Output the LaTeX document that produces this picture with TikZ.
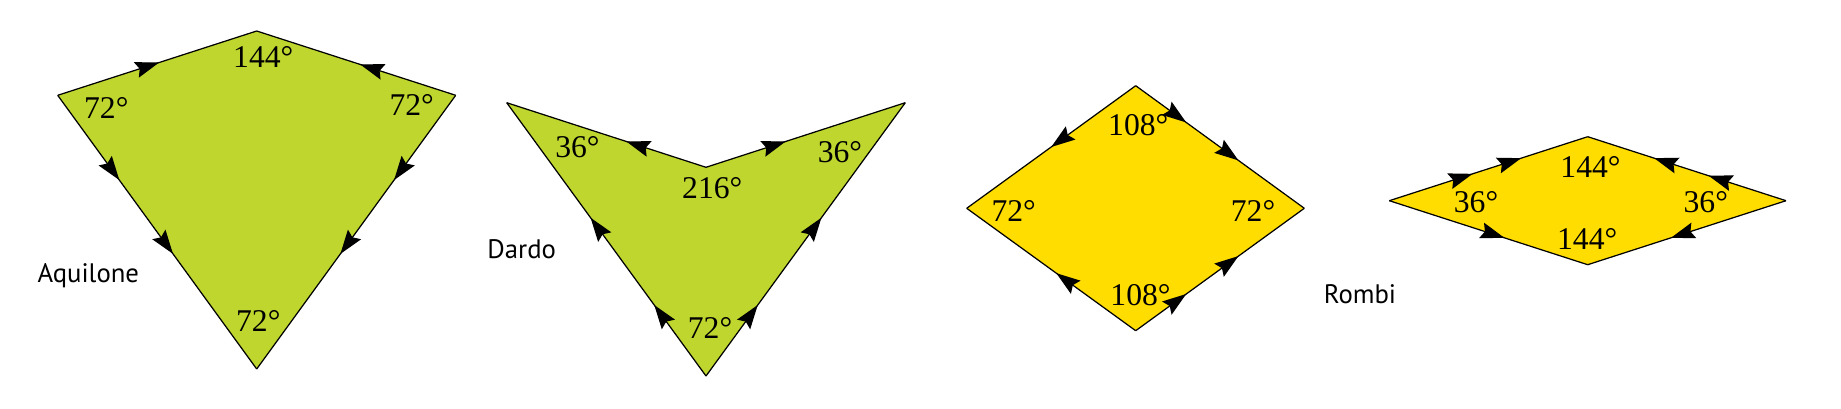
\documentclass[tikz,border=0pt]{standalone}
\usepackage{fontspec}
\setmainfont{Liberation Serif}
\newfontfamily\namefont{PT Sans}
\usetikzlibrary{positioning,arrows.meta,decorations.markings}

\definecolor{kitegreen}{RGB}{191,214,46}
\definecolor{rhombyellow}{RGB}{255,221,0}

\tikzset{
  edge/.style={draw=black, line width=0.35pt},
  arrowat/.style={postaction={decorate, decoration={markings,
      mark=at position #1 with {\arrow{Stealth[length=6.8pt,width=4.6pt,inset=1pt]}}}}},
  ang/.style={inner sep=0pt, font=\fontsize{9}{10}\selectfont},
  tilename/.style={inner sep=0pt, font=\namefont\fontsize{7.6}{9}\selectfont}
}

\begin{document}
\begin{tikzpicture}[x=0.01cm, y=-0.01cm]
  \useasboundingbox (0,0) rectangle (1841,409);

  % Aquilone (kite)
  \coordinate (kT) at (256.7,31);
  \coordinate (kL) at (57.7,95.3);
  \coordinate (kR) at (455.7,95.3);
  \coordinate (kB) at (256.7,369);
  \fill[kitegreen] (kT) -- (kR) -- (kB) -- (kL) -- cycle;
  \draw[edge, arrowat=0.51] (kL) -- (kT);
  \draw[edge, arrowat=0.48] (kR) -- (kT);
  \draw[edge, arrowat=0.31, arrowat=0.58] (kL) -- (kB);
  \draw[edge, arrowat=0.31, arrowat=0.58] (kR) -- (kB);
  \node[ang] (k144) at (263.3,56.7) {144°};
  \node[ang] (k72l) at (106.3,107.5) {72°};
  \node[ang] (k72r) at (411.7,105) {72°};
  \node[ang] (k72b) at (258.3,320.8) {72°};
  \node[tilename] (aquilone) at (88.3,276) {Aquilone};

  % Dardo (dart)
  \coordinate (dL) at (506.7,102.7);
  \coordinate (dR) at (905.3,102.7);
  \coordinate (dI) at (706,167.3);
  \coordinate (dB) at (706,376);
  \fill[kitegreen] (dL) -- (dI) -- (dR) -- (dB) -- cycle;
  \draw[edge, arrowat=0.40] (dI) -- (dL);
  \draw[edge, arrowat=0.40] (dI) -- (dR);
  \draw[edge, arrowat=0.26, arrowat=0.58] (dB) -- (dL);
  \draw[edge, arrowat=0.26, arrowat=0.58] (dB) -- (dR);
  \node[ang] (d36l) at (577.5,147.5) {36°};
  \node[ang] (d36r) at (840,152) {36°};
  \node[ang] (d216) at (712.3,188) {216°};
  \node[ang] (d72) at (710,328) {72°};
  \node[tilename] (dardo) at (521.7,249) {Dardo};

  % Rombo grasso
  \coordinate (fT) at (1135.7,85.7);
  \coordinate (fL) at (966.7,208.3);
  \coordinate (fR) at (1304.3,208.3);
  \coordinate (fB) at (1135.7,330.7);
  \fill[rhombyellow] (fT) -- (fR) -- (fB) -- (fL) -- cycle;
  \draw[edge, arrowat=0.50] (fT) -- (fL);
  \draw[edge, arrowat=0.30, arrowat=0.61] (fT) -- (fR);
  \draw[edge, arrowat=0.47] (fB) -- (fL);
  \draw[edge, arrowat=0.30, arrowat=0.61] (fB) -- (fR);
  \node[ang] (f108t) at (1138.3,125) {108°};
  \node[ang] (f72l) at (1013.7,210.5) {72°};
  \node[ang] (f72r) at (1253,210.5) {72°};
  \node[ang] (f108b) at (1140.5,295.3) {108°};

  % Rombo sottile
  \coordinate (tL) at (1389.3,200.7);
  \coordinate (tT) at (1587.7,136.7);
  \coordinate (tR) at (1786,200.7);
  \coordinate (tB) at (1587.7,264.7);
  \fill[rhombyellow] (tL) -- (tT) -- (tR) -- (tB) -- cycle;
  \draw[edge, arrowat=0.42, arrowat=0.665] (tL) -- (tT);
  \draw[edge, arrowat=0.39, arrowat=0.665] (tR) -- (tT);
  \draw[edge, arrowat=0.58] (tL) -- (tB);
  \draw[edge, arrowat=0.58] (tR) -- (tB);
  \node[ang] (t144t) at (1590.5,166.7) {144°};
  \node[ang] (t36l) at (1476,202.5) {36°};
  \node[ang] (t36r) at (1705.8,202.5) {36°};
  \node[ang] (t144b) at (1587.2,239.2) {144°};
  \node[tilename] (rombi) at (1360,294) {Rombi};
\end{tikzpicture}
\end{document}
